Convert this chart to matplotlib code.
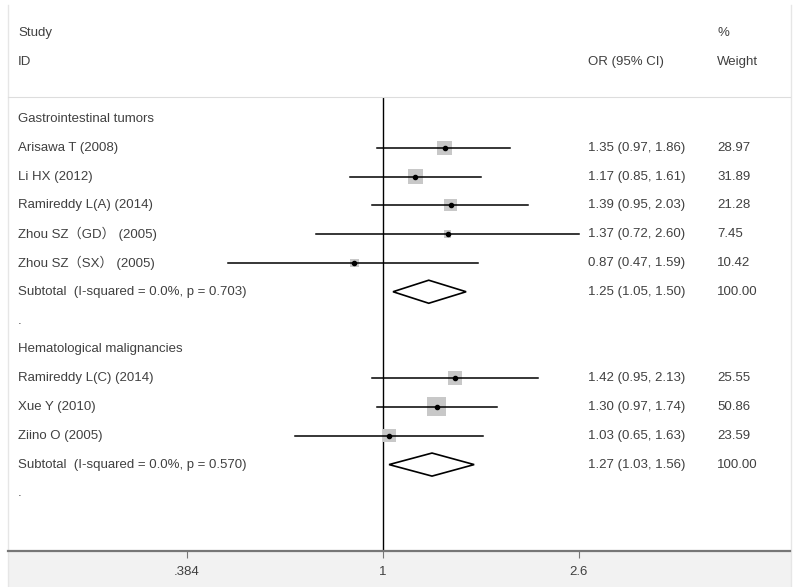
import numpy as np
import matplotlib.pyplot as plt
import matplotlib.transforms as mtransforms
from matplotlib.patches import Rectangle, Polygon

plt.rcParams['font.family'] = ['Liberation Sans', 'Noto Sans CJK SC', 'DejaVu Sans']

# rows, top to bottom
labels = ['Gastrointestinal tumors', 'Arisawa T (2008)', 'Li HX (2012)', 'Ramireddy L(A) (2014)',
          'Zhou SZ（GD） (2005)', 'Zhou SZ（SX） (2005)', 'Subtotal  (I-squared = 0.0%, p = 0.703)', '.',
          'Hematological malignancies', 'Ramireddy L(C) (2014)', 'Xue Y (2010)', 'Ziino O (2005)',
          'Subtotal  (I-squared = 0.0%, p = 0.570)', '.']
kind = ['head', 'study', 'study', 'study', 'study', 'study', 'sub', 'blank',
        'head', 'study', 'study', 'study', 'sub', 'blank']
orv = [None, 1.35, 1.17, 1.39, 1.37, 0.87, 1.25, None, None, 1.42, 1.30, 1.03, 1.27, None]
lo = [None, 0.97, 0.85, 0.95, 0.72, 0.47, 1.05, None, None, 0.95, 0.97, 0.65, 1.03, None]
hi = [None, 1.86, 1.61, 2.03, 2.60, 1.59, 1.50, None, None, 2.13, 1.74, 1.63, 1.56, None]
weight = [None, 28.97, 31.89, 21.28, 7.45, 10.42, 100.00, None, None, 25.55, 50.86, 23.59, 100.00, None]

xticks = [0.384, 1, 2.6]
xticklabels = ['.384', '1', '2.6']

W, H = 800, 587
fig = plt.figure(figsize=(8, 5.87), dpi=100)
tc = '#404040'
fs = 9.5

# panel frame and grey band under the axis
fig.patches.append(Rectangle((8 / W, 0), 784 / W, (587 - 552) / H, transform=fig.transFigure,
                             facecolor='#f2f2f2', edgecolor='none', zorder=-5))
fig.lines.append(plt.Line2D([8 / W, 8 / W], [0, 1 - 5 / H], transform=fig.transFigure, color='#e6e6e6', lw=1, zorder=-4))
fig.lines.append(plt.Line2D([791 / W, 791 / W], [0, 1 - 5 / H], transform=fig.transFigure, color='#e6e6e6', lw=1, zorder=-4))

ax = fig.add_axes([8 / W, (587 - 551) / H, 782 / W, (551 - 97) / H])
ax.patch.set_alpha(0)
ax.set_xscale('log')
ax.set_xlim(np.exp((8 - 383) / 205), np.exp((790 - 383) / 205))
ax.set_ylim(15.0, -0.76)
for s in ['left', 'right']:
    ax.spines[s].set_visible(False)
ax.spines['top'].set_color('#dddddd')
ax.spines['bottom'].set_color('#777777')
ax.spines['bottom'].set_linewidth(1.6)
ax.set_yticks([])
ax.set_xticks(xticks)
ax.set_xticklabels(xticklabels)
ax.xaxis.set_minor_locator(plt.NullLocator())
ax.tick_params(axis='x', length=5, color='#777777', labelcolor=tc, labelsize=fs, pad=6)

ax.axvline(1, color='black', lw=1.0, zorder=1)

trans = mtransforms.blended_transform_factory(fig.transFigure, ax.transData)
for i, lab in enumerate(labels):
    ax.text(18 / W, i, lab, transform=trans, va='center', ha='left', fontsize=fs, color=tc)
    if kind[i] in ('study', 'sub'):
        ax.text(588 / W, i, '%.2f (%.2f, %.2f)' % (orv[i], lo[i], hi[i]), transform=trans,
                va='center', ha='left', fontsize=fs, color=tc)
        ax.text(717 / W, i, '%.2f' % weight[i], transform=trans, va='center', ha='left', fontsize=fs, color=tc)
    if kind[i] == 'study':
        side = 2.66 * np.sqrt(weight[i]) * 0.72
        ax.scatter([orv[i]], [i], marker='s', s=side ** 2, color='#c8c8c8', edgecolors='none', zorder=2)
        ax.plot([lo[i], hi[i]], [i, i], color='black', lw=1.1, zorder=3)
        ax.scatter([orv[i]], [i], marker='o', s=9, color='black', zorder=4)
    elif kind[i] == 'sub':
        d = Polygon([(lo[i], i), (orv[i], i - 0.4), (hi[i], i), (orv[i], i + 0.4)], closed=True,
                    facecolor='white', edgecolor='black', lw=1.2, zorder=3)
        ax.add_patch(d)

fig.text(18 / W, 1 - 33 / H, 'Study', va='center', ha='left', fontsize=fs, color=tc)
fig.text(18 / W, 1 - 62 / H, 'ID', va='center', ha='left', fontsize=fs, color=tc)
fig.text(588 / W, 1 - 62 / H, 'OR (95% CI)', va='center', ha='left', fontsize=fs, color=tc)
fig.text(717 / W, 1 - 33 / H, '%', va='center', ha='left', fontsize=fs, color=tc)
fig.text(717 / W, 1 - 62 / H, 'Weight', va='center', ha='left', fontsize=fs, color=tc)

plt.savefig('out.png', dpi=100)
